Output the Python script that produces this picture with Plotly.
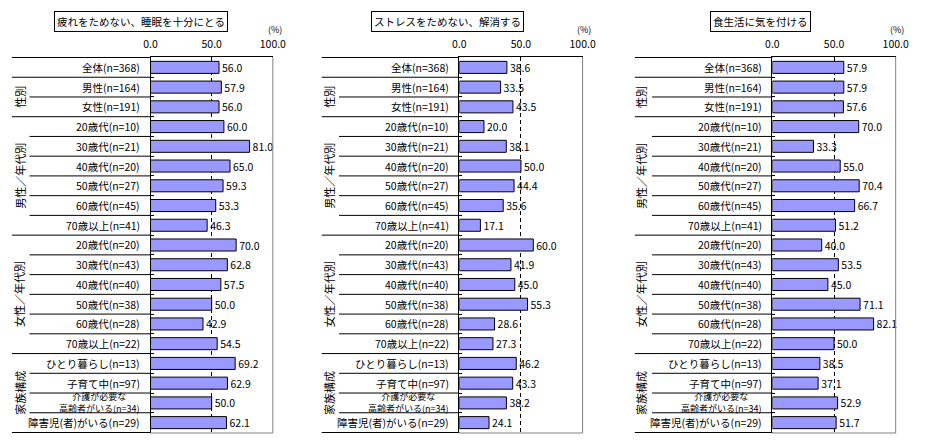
import plotly.graph_objects as go

W, H = 926, 448
FONT = "Noto Sans CJK JP"

# ---------------- data ----------------
categories = ["全体(n=368)", "男性(n=164)", "女性(n=191)",
              "20歳代(n=10)", "30歳代(n=21)", "40歳代(n=20)", "50歳代(n=27)", "60歳代(n=45)", "70歳以上(n=41)",
              "20歳代(n=20)", "30歳代(n=43)", "40歳代(n=40)", "50歳代(n=38)", "60歳代(n=28)", "70歳以上(n=22)",
              "ひとり暮らし(n=13)", "子育て中(n=97)", "介護が必要な<br>高齢者がいる(n=34)", "障害児(者)がいる(n=29)"]

sleep_values = [56.0, 57.9, 56.0, 60.0, 81.0, 65.0, 59.3, 53.3, 46.3, 70.0, 62.8, 57.5, 50.0, 42.9, 54.5,
                69.2, 62.9, 50.0, 62.1]
stress_values = [38.6, 33.5, 43.5, 20.0, 38.1, 50.0, 44.4, 35.6, 17.1, 60.0, 41.9, 45.0, 55.3, 28.6, 27.3,
                 46.2, 43.3, 38.2, 24.1]
diet_values = [57.9, 57.9, 57.6, 70.0, 33.3, 55.0, 70.4, 66.7, 51.2, 40.0, 53.5, 45.0, 71.1, 82.1, 50.0,
               38.5, 37.1, 52.9, 51.7]

panel_titles = ["疲れをためない、睡眠を十分にとる", "ストレスをためない、解消する", "食生活に気を付ける"]

group_names = ["性別", "男性／年代別", "女性／年代別", "家族構成"]
group_first = [1, 3, 9, 15]
group_last = [2, 8, 14, 18]

tick_values = [0, 50, 100]
tick_labels = ["0.0", "50.0", "100.0"]

# ---------------- layout geometry (pixels) ----------------
panels = [
    dict(values=sleep_values, ax0=146.7, ax1=271.7, full=5, inner=23, gx=13, tcx=136.7),
    dict(values=stress_values, ax0=462.3, ax1=588.3, full=321.7, inner=339.3, gx=329, tcx=450.0),
    dict(values=diet_values, ax0=782.3, ax1=908.3, full=641.7, inner=659.3, gx=648, tcx=770.3),
]
TOP, BOT = 57.0, 433.0


def px(x):
    return x / W


def py(y):
    return 1 - y / H


fig = go.Figure()
shapes = []
annotations = []
n = len(categories)
group_bounds = {0, n}
for f in group_first:
    group_bounds.add(f)

for i, p in enumerate(panels):
    k = "" if i == 0 else str(i + 1)
    xa, ya = "x" + k, "y" + k
    fig.add_trace(go.Bar(
        x=p["values"], y=categories, orientation="h",
        xaxis=xa, yaxis=ya,
        marker=dict(color="#9999FF", line=dict(color="black", width=1)),
        text=[f"{v:.1f}" for v in p["values"]],
        textposition="outside", constraintext="none", cliponaxis=False,
        textfont=dict(family=FONT, size=10.5, color="black"),
        hoverinfo="skip", showlegend=False,
    ))
    fig.update_layout(**{
        "xaxis" + k: dict(domain=[px(p["ax0"]), px(p["ax1"])], range=[0, 100], side="top",
                          anchor=ya, tickvals=tick_values, ticktext=tick_labels, ticks="",
                          tickfont=dict(family=FONT, size=10.5, color="black"),
                          ticklabelstandoff=4,
                          showline=True, linecolor="black", linewidth=1, zeroline=False,
                          showgrid=True, gridcolor="black", gridwidth=1, griddash="4px,3px",
                          fixedrange=True),
        "yaxis" + k: dict(domain=[py(BOT), py(TOP)], anchor=xa, type="category",
                          categoryorder="array", categoryarray=categories, autorange="reversed",
                          showticklabels=False, ticks="inside", tickson="boundaries", ticklen=3,
                          tickcolor="black", showline=True, linecolor="black", linewidth=1,
                          showgrid=False, zeroline=False, fixedrange=True),
    })
    # right & bottom gray borders
    shapes.append(dict(type="line", xref=xa + " domain", yref=ya + " domain", x0=1, x1=1, y0=0, y1=1,
                       line=dict(color="#808080", width=1)))
    shapes.append(dict(type="line", xref=xa + " domain", yref=ya + " domain", x0=0, x1=1, y0=0, y1=0,
                       line=dict(color="#808080", width=1)))
    # row separators on the left
    for b in range(n + 1):
        x_start = p["full"] if b in group_bounds else p["inner"]
        shapes.append(dict(type="line", xref="paper", yref=ya, x0=px(x_start), x1=px(p["ax0"]),
                           y0=b - 0.5, y1=b - 0.5, line=dict(color="black", width=1)))
    # category labels
    edge = p["ax0"] - 9
    for c in categories:
        multi = "<br>" in c
        annotations.append(dict(text=c, xref="paper", yref=ya, x=px(edge), y=c,
                                xanchor="right", yanchor="middle", align="center",
                                showarrow=False,
                                font=dict(family=FONT, size=9 if multi else 10.5, color="black")))
    # group labels
    for g, a, b in zip(group_names, group_first, group_last):
        annotations.append(dict(text=g, xref="paper", yref=ya, x=px(p["gx"]), y=(a + b) / 2,
                                textangle=-90, xanchor="center", yanchor="middle", showarrow=False,
                                font=dict(family=FONT, size=11, color="black")))
    # panel title
    annotations.append(dict(text=panel_titles[i], xref="paper", yref="paper", x=px(p["tcx"]), y=py(21),
                            xanchor="center", yanchor="middle", showarrow=False,
                            bordercolor="black", borderwidth=1, borderpad=2, bgcolor="white",
                            font=dict(family=FONT, size=10.5, color="black")))
    # unit label
    annotations.append(dict(text="(%)", xref="paper", yref="paper", x=px(p["ax1"] + 11), y=py(30),
                            xanchor="right", yanchor="middle", showarrow=False,
                            font=dict(family=FONT, size=9, color="black")))

fig.update_layout(
    width=W, height=H, margin=dict(l=0, r=0, t=0, b=0),
    paper_bgcolor="white", plot_bgcolor="white",
    bargap=0.39, shapes=shapes, annotations=annotations,
    font=dict(family=FONT, color="black"),
)

fig.write_html("out.html", config={"displayModeBar": False},
               post_script="document.body.style.margin='0';document.body.style.padding='0';")
